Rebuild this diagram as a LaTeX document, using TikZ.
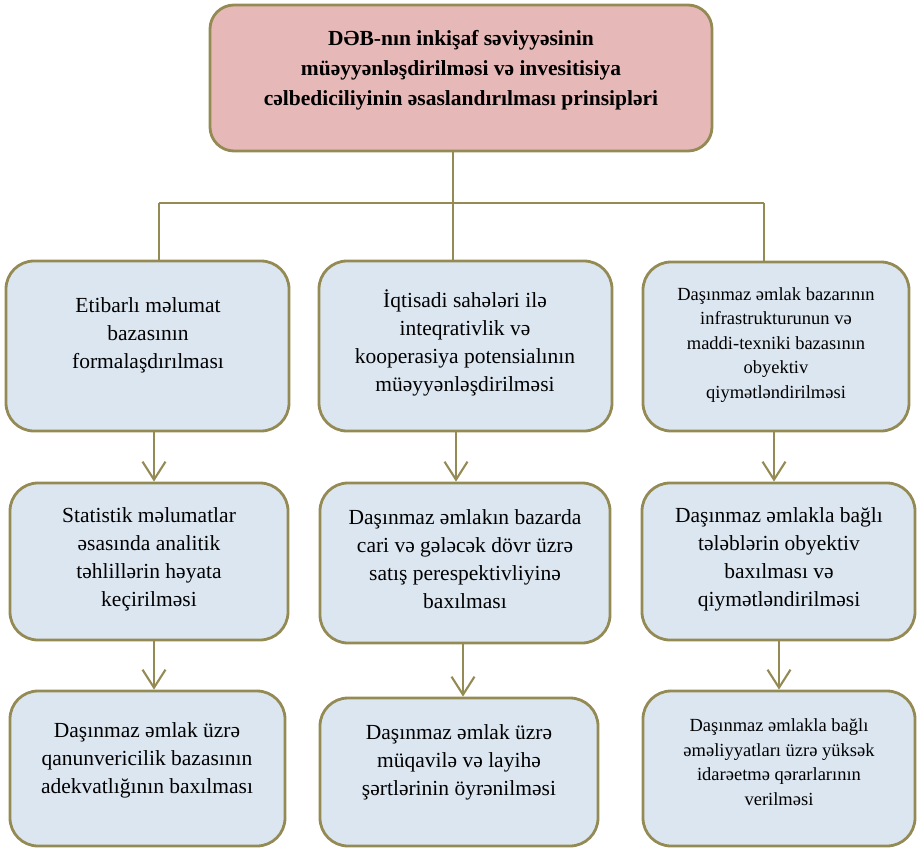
\documentclass[tikz,border=0pt]{standalone}
\usepackage{fontspec}
\setmainfont{Liberation Serif}
\usetikzlibrary{arrows.meta}

\definecolor{edge}{HTML}{948A54}
\definecolor{bluefill}{HTML}{DCE6F1}
\definecolor{pinkfill}{HTML}{E6B8B7}

\begin{document}
\begin{tikzpicture}[x=1pt, y=-1pt,
  box/.style={draw=edge, line width=2.8pt, fill=bluefill, rounded corners=28pt,
              inner sep=0pt, minimum width=#1},
  headbox/.style={draw=edge, line width=2.8pt, fill=pinkfill, rounded corners=24pt,
                  inner sep=0pt},
  txt/.style={align=center, inner sep=0pt, font=\fontsize{21.5}{28}\selectfont},
  smalltxt/.style={align=center, inner sep=0pt, font=\fontsize{18.5}{24.5}\selectfont},
  headtxt/.style={align=center, inner sep=0pt, font=\bfseries\fontsize{21.5}{30}\selectfont},
  link/.style={draw=edge, line width=2.1pt},
  flow/.style={link, -{Straight Barb[length=18pt, width=23pt, line width=2.1pt]}}
]
\useasboundingbox (0,0) rectangle (918,849);

% heading box
\node[headbox, minimum width=502pt, minimum height=146pt] (top) at (461,78) {};
\node[headtxt] (toptext) at (461,70) {DƏB-nın inkişaf səviyyəsinin\\müəyyənləşdirilməsi və invesitisiya\\cəlbediciliyinin əsaslandırılması prinsipləri};

% first row
\node[box=283pt, minimum height=170pt] (L1) at (147.5,346) {};
\node[box=293pt, minimum height=170pt] (M1) at (465.5,346) {};
\node[box=266pt, minimum height=169pt] (R1) at (776,346.5) {};
\node[txt] at (148,335) {Etibarlı məlumat\\bazasının\\formalaşdırılması};
\node[txt] at (465,343) {İqtisadi sahələri ilə\\inteqrativlik və\\kooperasiya potensialının\\müəyyənləşdirilməsi};
\node[smalltxt] at (776,345) {Daşınmaz əmlak bazarının\\infrastrukturunun və\\maddi-texniki bazasının\\obyektiv\\qiymətləndirilməsi};

% second row
\node[box=278pt, minimum height=157pt] (L2) at (149,561.5) {};
\node[box=290pt, minimum height=160pt] (M2) at (465,563) {};
\node[box=273pt, minimum height=157pt] (R2) at (778.5,561.5) {};
\node[txt] at (149,559) {Statistik məlumatlar\\əsasında analitik\\təhlillərin həyata\\keçirilməsi};
\node[txt] at (465,559) {Daşınmaz əmlakın bazarda\\cari və gələcək dövr üzrə\\satış perespektivliyinə\\baxılması};
\node[txt] at (779,559) {Daşınmaz əmlakla bağlı\\tələblərin obyektiv\\baxılması və\\qiymətləndirilməsi};

% third row
\node[box=275pt, minimum height=155pt] (L3) at (147.5,768.5) {};
\node[box=278pt, minimum height=148pt] (M3) at (459,772) {};
\node[box=272pt, minimum height=155pt] (R3) at (779,768.5) {};
\node[txt] at (147,760) {Daşınmaz əmlak üzrə\\qanunvericilik bazasının\\adekvatlığının baxılması};
\node[txt] at (459,762) {Daşınmaz əmlak üzrə\\müqavilə və layihə\\şərtlərinin öyrənilməsi};
\node[smalltxt] at (779,762) {Daşınmaz əmlakla bağlı\\əməliyyatları üzrə yüksək\\idarəetmə qərarlarının\\verilməsi};

% branching connector from the heading
\coordinate (hub) at (453,203);
\coordinate (hubL) at (159,203);
\coordinate (hubR) at (764,203);
\draw[link] (top.south -| hub) -- (hub);
\draw[link] (hubL) -- (hubR);
\draw[link] (hubL) -- (L1.north -| hubL);
\draw[link] (hub) -- (M1.north -| hub);
\draw[link] (hubR) -- (R1.north -| hubR);

% downward arrows in each column
\coordinate (xl) at (154,0);
\coordinate (xm1) at (456,0);
\coordinate (xm2) at (463,0);
\coordinate (xr1) at (774,0);
\coordinate (xr2) at (779,0);
\draw[flow] (L1.south -| xl) -- (L2.north -| xl);
\draw[flow] (L2.south -| xl) -- (L3.north -| xl);
\draw[flow] (M1.south -| xm1) -- (M2.north -| xm1);
\draw[flow] (M2.south -| xm2) -- (M3.north -| xm2);
\draw[flow] (R1.south -| xr1) -- (R2.north -| xr1);
\draw[flow] (R2.south -| xr2) -- (R3.north -| xr2);
\end{tikzpicture}
\end{document}
